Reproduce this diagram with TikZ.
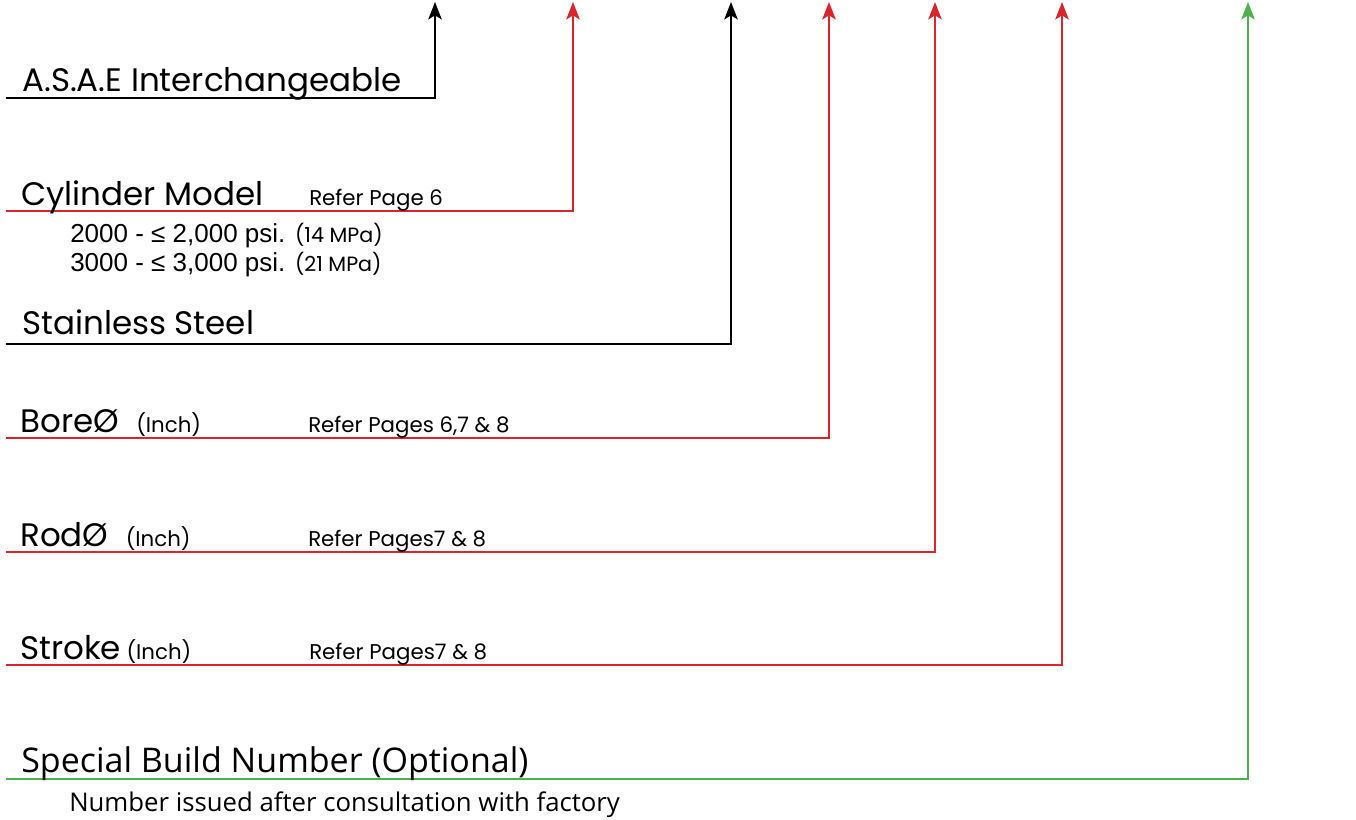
\documentclass[tikz,border=0pt]{standalone}
\usepackage{fontspec}
\setmainfont{Poppins}
\newfontfamily\psifont{Liberation Sans}
\newfontfamily\notefont{Open Sans}
\usetikzlibrary{arrows.meta}
\definecolor{tagred}{RGB}{218,37,45}
\definecolor{taggreen}{RGB}{76,178,76}

\begin{document}
\begin{tikzpicture}[x=0.75pt,y=-0.75pt,
  lead/.style={line width=1.9pt,-{Stealth[length=13pt,width=10pt,inset=3pt]}},
  big/.style={anchor=base west,inner sep=0pt,font=\fontsize{24.4}{28}\selectfont},
  small/.style={anchor=base west,inner sep=0pt,font=\fontsize{16}{19}\selectfont},
  psi/.style={anchor=base west,inner sep=0pt,font=\psifont\fontsize{19.5}{22}\selectfont}]
\useasboundingbox (0,0) rectangle (1356,819);

% Leaders
\foreach \name/\yy/\xx/\col in {asae/98/435/black, model/211/573/tagred,
    steel/344/731/black, bore/438/829/tagred, rod/552/935/tagred,
    stroke/665/1062/tagred, build/779/1248/taggreen} {
  \coordinate (\name-s) at (6,\yy);
  \coordinate (\name-t) at (\xx,2);
  \draw[lead,\col] (\name-s) -| (\name-t);
}

% Labels
\node[big] (asae) at (22,91) {A.S.A.E Interchangeable};
\node[big] (model) at (21,205) {Cylinder Model};
\node[small] (modelref) at (309,205) {Refer Page 6};
\node[psi] (p2000) at (70,242) {2000 - ≤ 2,000 psi. {\rmfamily\fontsize{15.5}{18}\selectfont(14 MPa)}};
\node[psi] (p3000) at (70,271) {3000 - ≤ 3,000 psi. {\rmfamily\fontsize{15.5}{18}\selectfont(21 MPa)}};
\node[big] (steel) at (22,334) {Stainless Steel};
\node[big] (bore) at (20,432) {BoreØ\ \ {\fontsize{16}{19}\selectfont(Inch)}};
\node[small] (boreref) at (308,432) {Refer Pages 6,7 \& 8};
\node[big] (rod) at (20,546) {RodØ\ \ {\fontsize{16}{19}\selectfont(Inch)}};
\node[small] (rodref) at (308,546) {Refer Pages7 \& 8};
\node[big] (stroke) at (20,659) {Stroke\,{\fontsize{16}{19}\selectfont(Inch)}};
\node[small] (strokeref) at (309,659) {Refer Pages7 \& 8};
\node[big,font=\notefont\fontsize{25.5}{30}\selectfont] (build) at (21,772) {Special Build Number (Optional)};
\node[anchor=base west,inner sep=0pt,font=\notefont\fontsize{19.3}{23}\selectfont] (buildnote) at (69,811) {Number issued after consultation with factory};
\end{tikzpicture}
\end{document}
